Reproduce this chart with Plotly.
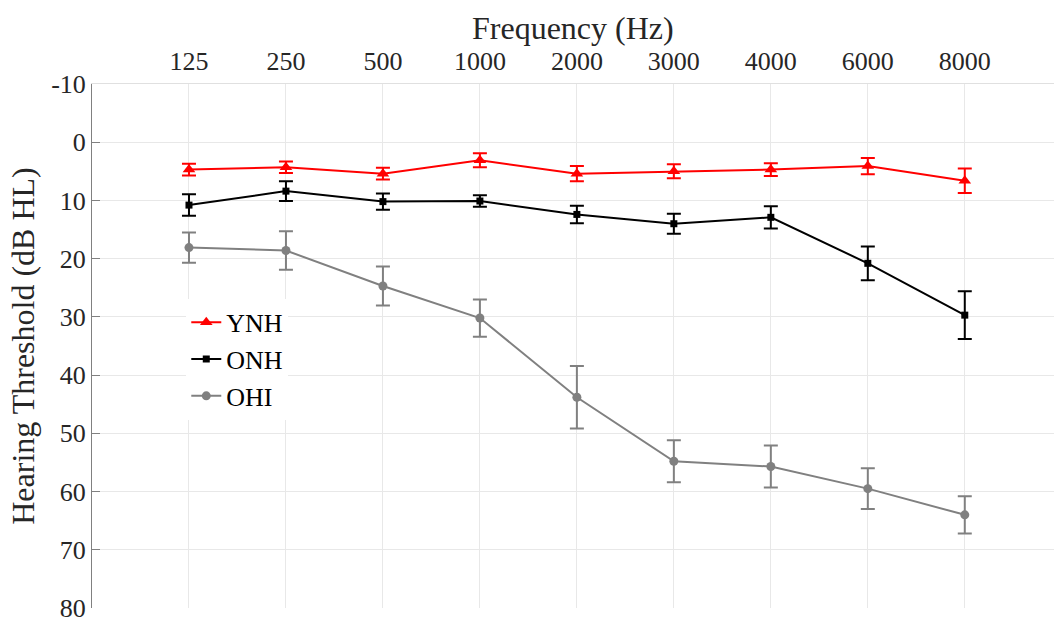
import plotly.graph_objects as go

freqs = ["125", "250", "500", "1000", "2000", "3000", "4000", "6000", "8000"]
ynh = [4.7, 4.3, 5.4, 3.1, 5.4, 5.0, 4.7, 4.1, 6.6]
ynh_err = [1.0, 1.0, 1.0, 1.2, 1.3, 1.2, 1.1, 1.4, 2.1]
onh = [10.8, 8.4, 10.2, 10.1, 12.4, 14.0, 12.9, 20.8, 29.7]
onh_err = [1.85, 1.7, 1.4, 1.0, 1.5, 1.7, 1.9, 2.9, 4.1]
ohi = [18.1, 18.6, 24.7, 30.2, 43.8, 54.8, 55.7, 59.5, 64.0]
ohi_err = [2.6, 3.3, 3.35, 3.2, 5.35, 3.6, 3.6, 3.5, 3.2]
yticks = [-10, 0, 10, 20, 30, 40, 50, 60, 70, 80]
ylabels = ["-10", "0", "10", "20", "30", "40", "50", "60", "70", "80"]

xpos = list(range(1, len(freqs) + 1))

series = [
    ("YNH", ynh, ynh_err, "#ff0000", "triangle-up", 11),
    ("ONH", onh, onh_err, "#000000", "square", 7),
    ("OHI", ohi, ohi_err, "#808080", "circle", 9),
]

fig = go.Figure()
for name, vals, errs, col, sym, ms in series:
    fig.add_trace(go.Scatter(
        x=xpos, y=vals, name=name, mode="lines+markers",
        line=dict(color=col, width=2),
        marker=dict(color=col, symbol=sym, size=ms),
        error_y=dict(type="data", array=errs, visible=True, color=col,
                     thickness=2, width=7),
    ))

serif = "Liberation Serif, Times New Roman, serif"
fig.update_layout(
    width=1054, height=617,
    margin=dict(l=92, r=0, t=84, b=9, autoexpand=False),
    paper_bgcolor="white", plot_bgcolor="white",
    font=dict(family=serif, size=26, color="#262626"),
    showlegend=True,
    legend=dict(x=0.098, y=0.59, xanchor="left", yanchor="top",
                bgcolor="white", font=dict(family=serif, size=26, color="#000"),
                tracegroupgap=0, itemwidth=30),
    xaxis=dict(
        side="top", range=[0, 9.92], tickmode="array", tickvals=xpos, ticktext=freqs,
        showgrid=True, gridcolor="#e8e8e8", gridwidth=1, zeroline=False,
        showline=True, linecolor="#e0e0e0", linewidth=1, ticks="",
        tickfont=dict(family=serif, size=26, color="#262626"),
        ticklabelstandoff=3, ticklabeloverflow="allow",
        automargin=False,
    ),
    yaxis=dict(
        range=[80, -10], tickmode="array", tickvals=yticks, ticktext=ylabels,
        showgrid=True, gridcolor="#e8e8e8", gridwidth=1, zeroline=False,
        showline=True, linecolor="#808080", linewidth=1,
        ticks="inside", ticklen=8, tickcolor="#808080",
        tickfont=dict(family=serif, size=26, color="#262626"),
        ticklabeloverflow="allow",
        automargin=False,
        title=dict(text="Hearing Threshold (dB HL)", standoff=6,
                   font=dict(family=serif, size=32, color="#262626")),
    ),
    annotations=[dict(
        text="Frequency (Hz)", xref="paper", yref="paper",
        x=0.5, y=1 + (84 - 28) / 524, xanchor="center", yanchor="middle",
        showarrow=False, font=dict(family=serif, size=32, color="#262626"),
    )],
)

fig.write_html("out.html")
